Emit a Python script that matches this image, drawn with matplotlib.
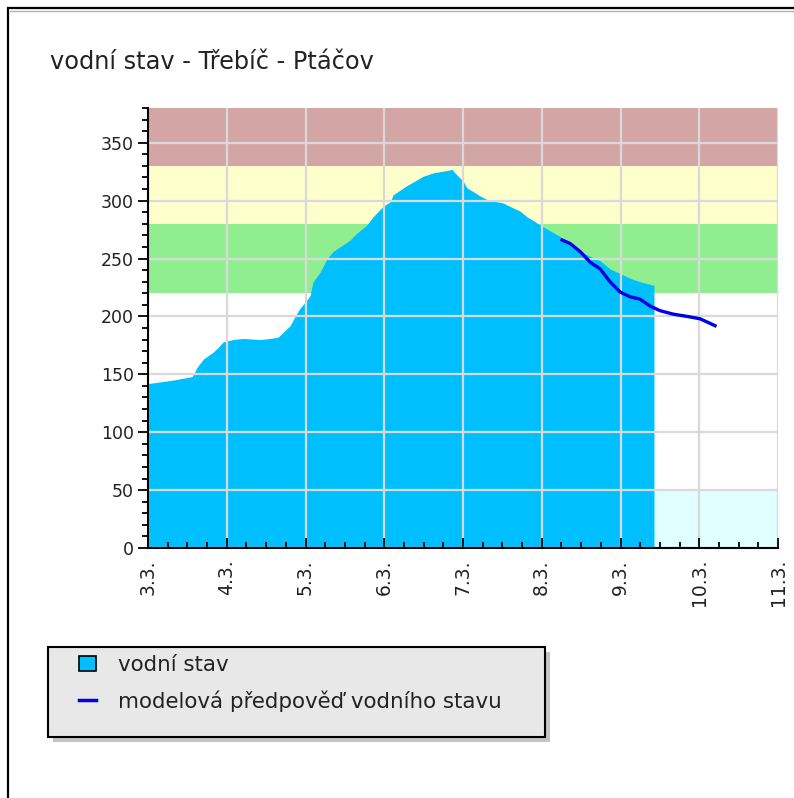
import matplotlib
matplotlib.use("Agg")
import matplotlib.pyplot as plt
from matplotlib.patches import Rectangle, Patch
from matplotlib.lines import Line2D
from matplotlib.ticker import MultipleLocator

# ---------------------------------------------------------------------------
# Data (hours since 3.3. 00:00, water level in cm)
# ---------------------------------------------------------------------------
stav_hours = [0, 7.6, 13.4, 15.2, 16.8, 18.3, 19.8, 21.3, 22.9, 25.9, 29.0,
              34.1, 37.2, 39.6, 41.1, 43.3, 44.8, 46.3, 47.8, 49.4, 50.3,
              52.4, 54.6, 56.4, 58.5, 61.6, 63.7, 66.7, 68.6, 71.6, 73.8,
              74.7, 76.8, 78.9, 82.0, 83.8, 86.9, 91.1, 92.6, 94.2, 96.0,
              97.2, 99.0, 101.2, 103.3, 106.4, 108.2, 110.3, 113.4, 115.5,
              117.3, 119.5, 122.5, 125.6, 128.6, 131.7, 134.7, 137.8, 140.8,
              143.9, 146.9, 149.9, 153.9, 154.2]
stav_values = [142, 145, 148, 157, 163, 166, 169, 173, 178, 180, 181,
               180, 181, 182, 186, 192, 200, 207, 212, 218, 230,
               238, 250, 256, 260, 266, 272, 279, 286, 295, 299,
               305, 309, 313, 318, 321, 324, 326, 327, 322, 317,
               311, 308, 304, 301, 299, 298, 295, 291, 286,
               283, 279, 274, 269, 261, 256, 252, 248, 241,
               237, 233, 230, 227, 227]

model_hours = [126.2, 128.6, 131.7, 134.7, 137.8, 140.8, 143.9, 146.9,
               149.9, 153.0, 156.0, 160.0, 164.3, 168.2, 171.3, 172.8]
model_values = [266, 263, 256, 247, 241, 230, 221, 217,
                215, 209, 205, 202, 200, 198, 194, 192]

# flood-level bands (lower, upper, colour)
band_limits = [(0, 50), (220, 280), (280, 330), (330, 380)]
band_colors = ["#e0ffff", "#90ee90", "#ffffcc", "#d4a5a5"]

day_labels = ["3.3.", "4.3.", "5.3.", "6.3.", "7.3.", "8.3.", "9.3.",
              "10.3.", "11.3."]

AREA_COLOR = "#00bfff"
LINE_COLOR = "#0000e6"
TEXT_COLOR = "#222222"

plt.rcParams.update({
    "font.family": ["DejaVu Sans"],
    "font.size": 10,
})

W, H = 794, 798
fig = plt.figure(figsize=(W / 100, H / 100), dpi=100, facecolor="white")
ax = fig.add_axes([148 / W, 1 - 548 / H, 630 / W, 440 / H])

for (lo, hi), col in zip(band_limits, band_colors):
    ax.axhspan(lo, hi, color=col, lw=0, zorder=0)

ax.grid(True, which="major", color="#d9d9d9", lw=1.6, zorder=1)
ax.set_axisbelow(False)

ax.fill_between(stav_hours, stav_values, 0, color=AREA_COLOR, lw=0, zorder=2)
ax.plot(model_hours, model_values, color=LINE_COLOR, lw=2.4, zorder=3)

ax.set_xlim(0, 192)
ax.set_ylim(0, 380)
ax.set_xticks(range(0, 193, 24))
ax.xaxis.set_minor_locator(MultipleLocator(6))
ax.set_xticklabels(day_labels, rotation=90, fontsize=13.5, color=TEXT_COLOR)
ax.yaxis.set_major_locator(MultipleLocator(50))
ax.yaxis.set_minor_locator(MultipleLocator(10))
ax.tick_params(axis="y", which="major", direction="out", length=7, width=1.3,
               labelsize=12.5, labelcolor=TEXT_COLOR, pad=3)
ax.tick_params(axis="y", which="minor", direction="out", length=4.5, width=1.3)
ax.tick_params(axis="x", which="major", direction="in", length=7, width=1.3,
               pad=8)
ax.tick_params(axis="x", which="minor", direction="in", length=4.5, width=1.3)
for side in ("top", "right"):
    ax.spines[side].set_visible(False)
for side in ("left", "bottom"):
    ax.spines[side].set_linewidth(1.5)
    ax.spines[side].set_zorder(4)

fig.text(50 / W, 1 - 62 / H, "vodní stav - Třebíč - Ptáčov", fontsize=17.3,
         ha="left", va="center", color=TEXT_COLOR)

# legend box with drop shadow, drawn by hand so its size matches
lx0, ly0, lx1, ly1 = 48, 647, 545, 737
fig.patches.append(Rectangle(((lx0 + 5) / W, 1 - (ly1 + 5) / H),
                             (lx1 - lx0) / W, (ly1 - ly0) / H,
                             transform=fig.transFigure, facecolor="#c4c4c4",
                             edgecolor="none", zorder=1))
fig.patches.append(Rectangle((lx0 / W, 1 - ly1 / H),
                             (lx1 - lx0) / W, (ly1 - ly0) / H,
                             transform=fig.transFigure, facecolor="#e8e8e8",
                             edgecolor="black", lw=1.5, zorder=2))

handles = [
    Patch(facecolor=AREA_COLOR, edgecolor="black", lw=1.2),
    Line2D([0], [0], color=LINE_COLOR, lw=2.5),
]
labels = ["vodní stav", "modelová předpověď vodního stavu"]
leg = fig.legend(
    handles, labels, loc="upper left",
    bbox_to_anchor=(79 / W, 1 - 655 / H),
    fontsize=15.4, frameon=False, borderpad=0, borderaxespad=0,
    labelspacing=0.72, handlelength=0.8, handleheight=0.75,
    handletextpad=1.02,
)
leg.set_zorder(3)
for t in leg.get_texts():
    t.set_color(TEXT_COLOR)

# outer frame (only left and top edges fall inside the image)
fig.patches.append(Rectangle((8 / W, -0.1), 1.2, 1.1 - 8 / H,
                             transform=fig.transFigure, fill=False,
                             edgecolor="black", lw=1.6))
fig.lines.append(Line2D([10 / W, 1], [1 - 10.5 / H, 1 - 10.5 / H],
                        transform=fig.transFigure, color="#b0b0b0", lw=1))

fig.savefig("out.png", dpi=100, facecolor="white")
